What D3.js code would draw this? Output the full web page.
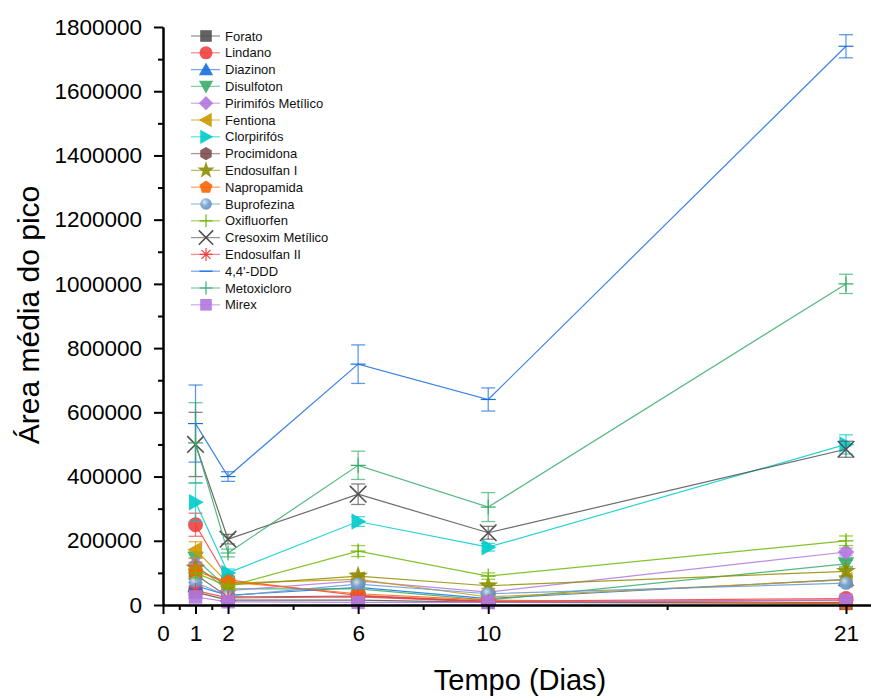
<!DOCTYPE html>
<html>
<head>
<meta charset="utf-8">
<script src="https://cdn.jsdelivr.net/npm/d3@7"></script>
<style>
  body { margin: 0; background: #fff; }
  svg { display: block; font-family: Arial, "Liberation Sans", sans-serif; }
</style>
</head>
<body>
<div id="chart"></div>
<script>
// days sampled
const days = [1, 2, 6, 10, 21];
const xMajorTicks = [0, 1, 2, 6, 10, 21];
const xMinorTicks = [0.5, 1.5, 4, 8, 15.5];
const yMajorTicks = [0, 200000, 400000, 600000, 800000, 1000000, 1200000, 1400000, 1600000, 1800000];

const names = ['Forato', 'Lindano', 'Diazinon', 'Disulfoton', 'Pirimifós Metílico', 'Fentiona',
    'Clorpirifós', 'Procimidona', 'Endosulfan I', 'Napropamida', 'Buprofezina', 'Oxifluorfen',
    'Cresoxim Metílico', 'Endosulfan II', "4,4'-DDD", 'Metoxicloro', 'Mirex'];

// mean peak area per day
const forato = [40000, 15000, 15000, 8000, 5000];
const lindano = [250000, 78000, 30000, 12000, 20000];
const diazinon = [60000, 30000, 55000, 20000, 80000];
const disulfoton = [145000, 50000, 50000, 15000, 128000];
const pirimifos = [125000, 45000, 75000, 40000, 165000];
const fentiona = [172000, 68000, 80000, 25000, 78000];
const clorpirifos = [320000, 100000, 260000, 180000, 500000];
const procimidona = [95000, 25000, 28000, 10000, 8000];
const endosulfanI = [115000, 62000, 90000, 60000, 105000];
const napropamida = [105000, 72000, 35000, 15000, 5000];
const buprofezina = [70000, 28000, 65000, 35000, 68000];
const oxifluorfen = [100000, 58000, 168000, 90000, 200000];
const cresoxim = [500000, 205000, 345000, 225000, 485000];
const endosulfanII = [45000, 22000, 25000, 10000, 15000];
const ddd = [565000, 400000, 750000, 640000, 1740000];
const metoxicloro = [505000, 162000, 435000, 305000, 1000000];
const mirex = [25000, 10000, 8000, 8000, 15000];

// standard deviations
const foratoErr = [8000, 4000, 5000, 3000, 2000];
const lindanoErr = [36000, 10000, 6000, 4000, 5000];
const diazinonErr = [10000, 5000, 8000, 5000, 10000];
const disulfotonErr = [20000, 8000, 8000, 4000, 12000];
const pirimifosErr = [20000, 8000, 10000, 6000, 12000];
const fentionaErr = [25000, 10000, 10000, 5000, 8000];
const clorpirifosErr = [60000, 12000, 15000, 12000, 30000];
const procimidonaErr = [15000, 5000, 6000, 3000, 2000];
const endosulfanIErr = [18000, 8000, 10000, 8000, 15000];
const napropamidaErr = [15000, 10000, 8000, 4000, 2000];
const buprofezinaErr = [12000, 5000, 8000, 6000, 10000];
const oxifluorfenErr = [15000, 8000, 17000, 10000, 15000];
const cresoximErr = [100000, 15000, 32000, 20000, 25000];
const endosulfanIIErr = [8000, 5000, 5000, 3000, 4000];
const dddErr = [120000, 15000, 60000, 36000, 36000];
const metoxicloroErr = [125000, 12000, 44000, 45000, 30000];
const mirexErr = [5000, 3000, 3000, 2000, 3000];

const colors = ['#515151', '#F14040', '#1A6FDF', '#37AD6B', '#B177DE', '#CC9900', '#00CBCC',
    '#7D4E4E', '#8E8E00', '#FB6501', '#6699CC', '#6FB802', '#515151', '#F14040', '#1A6FDF',
    '#37AD6B', '#B177DE'];
const shapes = ['square', 'circle', 'triUp', 'triDown', 'diamond', 'triLeft', 'triRight', 'hexagon',
    'star', 'pentagon', 'sphere', 'plus', 'cross', 'asterisk', 'hline', 'plus', 'square'];

const values = [forato, lindano, diazinon, disulfoton, pirimifos, fentiona, clorpirifos, procimidona,
    endosulfanI, napropamida, buprofezina, oxifluorfen, cresoxim, endosulfanII, ddd, metoxicloro, mirex];
const errors = [foratoErr, lindanoErr, diazinonErr, disulfotonErr, pirimifosErr, fentionaErr,
    clorpirifosErr, procimidonaErr, endosulfanIErr, napropamidaErr, buprofezinaErr, oxifluorfenErr,
    cresoximErr, endosulfanIIErr, dddErr, metoxicloroErr, mirexErr];

const series = names.map((name, i) => ({
    name: name,
    color: colors[i],
    shape: shapes[i],
    points: days.map((d, j) => ({ x: d, y: values[i][j], e: errors[i][j] }))
}));

function polygon(n, r, start) {
    let pts = [];
    for (let k = 0; k < n; k++) {
        let a = start + k * 2 * Math.PI / n;
        pts.push([r * Math.cos(a), r * Math.sin(a)]);
    }
    return 'M' + pts.map(p => p.join(',')).join('L') + 'Z';
}

function triangle(s, rot) {
    const h = s / 2;
    let pts = [[0, -h], [h, h * 0.8], [-h, h * 0.8]];
    const c = Math.cos(rot), sn = Math.sin(rot);
    pts = pts.map(p => [p[0] * c - p[1] * sn, p[0] * sn + p[1] * c]);
    return 'M' + pts.map(p => p.join(',')).join('L') + 'Z';
}

// path for each marker type, s = box width
function markerPath(shape, s) {
    const h = s / 2;
    switch (shape) {
        case 'square':
            return d3.symbol(d3.symbolSquare, s * s * 0.8)();
        case 'circle':
            return d3.symbol(d3.symbolCircle, Math.PI * h * h)();
        case 'sphere':
            return d3.symbol(d3.symbolCircle, Math.PI * h * h * 0.8)();
        case 'triUp':
            return triangle(s * 1.1, 0);
        case 'triDown':
            return triangle(s * 1.1, Math.PI);
        case 'triLeft':
            return triangle(s * 1.1, -Math.PI / 2);
        case 'triRight':
            return triangle(s * 1.1, Math.PI / 2);
        case 'diamond':
            return polygon(4, h * 1.1, -Math.PI / 2);
        case 'hexagon':
            return polygon(6, h * 1.02, -Math.PI / 2);
        case 'pentagon':
            return polygon(5, h * 1.05, -Math.PI / 2);
        case 'star':
            return d3.symbol(d3.symbolStar, s * s * 0.55)();
        case 'plus':
            return `M${-h},0H${h}M0,${-h}V${h}`;
        case 'cross':
            return `M${-h * 0.85},${-h * 0.85}L${h * 0.85},${h * 0.85}M${-h * 0.85},${h * 0.85}L${h * 0.85},${-h * 0.85}`;
        case 'asterisk':
            return `M${-h},0H${h}M0,${-h}V${h}M${-h * 0.7},${-h * 0.7}L${h * 0.7},${h * 0.7}M${-h * 0.7},${h * 0.7}L${h * 0.7},${-h * 0.7}`;
        case 'hline':
            return `M${-h},0H${h}`;
    }
}

const strokeOnly = ['plus', 'cross', 'asterisk', 'hline'];

function drawMarker(g, d, size) {
    const isLine = strokeOnly.includes(d.shape);
    let fill = d.color;
    if (d.shape === 'sphere') fill = 'url(#sphere)';
    g.append('path')
        .attr('d', markerPath(d.shape, d.shape === 'cross' ? size * 1.3 : size))
        .attr('fill', isLine ? 'none' : fill)
        .attr('fill-opacity', 0.9)
        .attr('stroke', isLine ? d.color : 'none')
        .attr('stroke-width', d.shape === 'cross' ? 1.6 : 1.2);
}

function drawChart() {
    const width = 871;
    const height = 697;

    const svg = d3.select('#chart')
        .append('svg')
        .attr('width', width)
        .attr('height', height);

    // gradient for the sphere marker
    const grad = svg.append('defs').append('radialGradient')
        .attr('id', 'sphere')
        .attr('cx', '38%').attr('cy', '35%').attr('r', '70%');
    grad.append('stop').attr('offset', '0%').attr('stop-color', '#dde9f5');
    grad.append('stop').attr('offset', '45%').attr('stop-color', '#7aa6d3');
    grad.append('stop').attr('offset', '100%').attr('stop-color', '#5a88b8');

    const xScale = d3.scaleLinear().domain([0, 21.8]).range([163, 872]);
    const yScale = d3.scaleLinear().domain([0, 1800000]).range([605, 27]);

    // series lines, error bars, markers (drawn in legend order)
    const line = d3.line().x(p => xScale(p.x)).y(p => yScale(p.y));

    series.forEach(s => {
        const g = svg.append('g');
        g.append('path')
            .datum(s.points)
            .attr('d', line)
            .attr('fill', 'none')
            .attr('stroke', s.color)
            .attr('stroke-opacity', 0.85)
            .attr('stroke-width', 1.2);

        const eb = g.selectAll('.err')
            .data(s.points)
            .enter()
            .append('g')
            .attr('stroke', s.color)
            .attr('stroke-opacity', 0.7)
            .attr('stroke-width', 1.3);
        eb.append('line')
            .attr('x1', p => xScale(p.x)).attr('x2', p => xScale(p.x))
            .attr('y1', p => yScale(p.y + p.e)).attr('y2', p => yScale(p.y - p.e));
        eb.append('line')
            .attr('x1', p => xScale(p.x) - 7).attr('x2', p => xScale(p.x) + 7)
            .attr('y1', p => yScale(p.y + p.e)).attr('y2', p => yScale(p.y + p.e));
        eb.append('line')
            .attr('x1', p => xScale(p.x) - 7).attr('x2', p => xScale(p.x) + 7)
            .attr('y1', p => yScale(p.y - p.e)).attr('y2', p => yScale(p.y - p.e));

        s.points.forEach(p => {
            const m = g.append('g').attr('transform', `translate(${xScale(p.x)}, ${yScale(p.y)})`);
            drawMarker(m, s, 15);
        });
    });

    // axes
    const xAxis = d3.axisBottom(xScale).tickValues(xMajorTicks).tickFormat(d3.format('d'))
        .tickSize(9).tickPadding(11).tickSizeOuter(0);
    const xMinor = d3.axisBottom(xScale).tickValues(xMinorTicks).tickFormat('').tickSize(5).tickSizeOuter(0);
    const yAxis = d3.axisLeft(yScale).tickValues(yMajorTicks).tickFormat(d3.format('d'))
        .tickSize(9).tickPadding(12).tickSizeOuter(0);
    const yMinor = d3.axisLeft(yScale).tickValues(d3.range(100000, 1800000, 200000)).tickFormat('')
        .tickSize(5).tickSizeOuter(0);

    [xMinor, xAxis].forEach(ax => {
        svg.append('g').attr('transform', 'translate(0, 605)').call(ax);
    });
    [yMinor, yAxis].forEach(ax => {
        svg.append('g').attr('transform', 'translate(163, 0)').call(ax);
    });
    svg.selectAll('.domain, .tick line').attr('stroke', '#000').attr('stroke-width', 2);
    svg.selectAll('.tick text').attr('font-size', 22.5).attr('fill', '#000')
        .attr('font-family', 'Arial, "Liberation Sans", sans-serif');

    // axis titles
    svg.append('text')
        .attr('x', 520).attr('y', 690)
        .attr('text-anchor', 'middle')
        .attr('font-size', 29)
        .text('Tempo (Dias)');
    svg.append('text')
        .attr('transform', 'translate(39, 315) rotate(-90)')
        .attr('text-anchor', 'middle')
        .attr('font-size', 30)
        .text('Área média do pico');

    // legend
    const legend = svg.selectAll('.legend')
        .data(series)
        .enter()
        .append('g')
        .attr('transform', (d, i) => `translate(206, ${36 + i * 16.8})`);
    legend.append('line')
        .attr('x1', -15).attr('x2', 14)
        .attr('stroke', d => d.color)
        .attr('stroke-opacity', 0.6)
        .attr('stroke-width', 1.3);
    legend.each(function (d) {
        drawMarker(d3.select(this), d, 13);
    });
    legend.append('text')
        .attr('x', 19).attr('y', 4.5)
        .attr('font-size', 13)
        .attr('fill', '#111')
        .text(d => d.name);
}

drawChart();
</script>
</body>
</html>
